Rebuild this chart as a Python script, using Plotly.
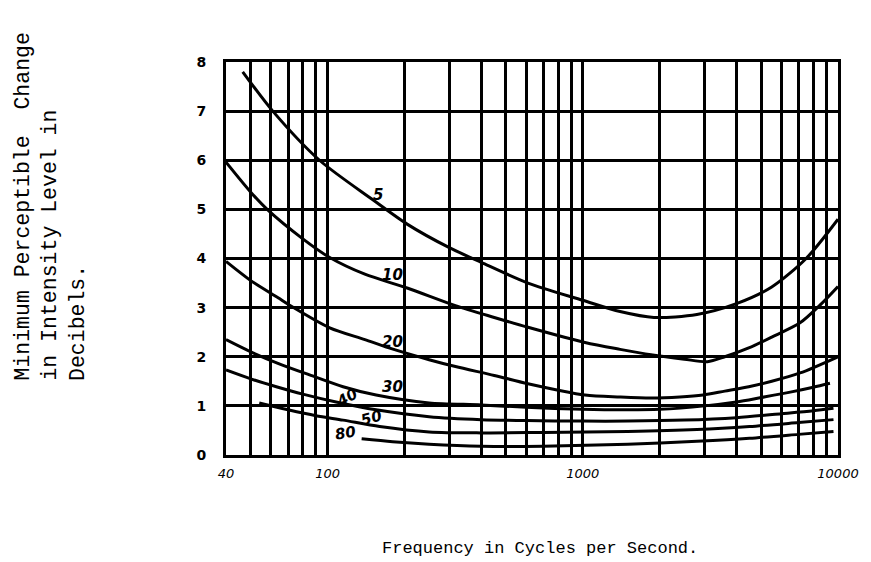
import plotly.graph_objects as go
import numpy as np

# ---- data ----
f5 = [46.5, 61, 93, 150, 205, 300, 400, 610, 1000, 1400, 1900, 2800, 4000, 5500, 7500, 10000]
v5 = [7.8, 7.0, 6.0, 5.2, 4.7, 4.22, 3.92, 3.5, 3.15, 2.92, 2.8, 2.86, 3.08, 3.42, 4.0, 4.8]

f10 = [40, 50, 58, 80, 102, 140, 205, 317, 450, 610, 1020, 1400, 1850, 2500, 3080, 3600, 4470, 5500, 7100, 8500, 10000]
v10 = [5.96, 5.35, 5.0, 4.4, 4.02, 3.68, 3.4, 3.04, 2.8, 2.6, 2.29, 2.15, 2.04, 1.95, 1.9, 2.0, 2.18, 2.4, 2.69, 3.05, 3.43]

f20 = [40, 50, 64, 71, 102, 140, 174, 250, 317, 450, 610, 1020, 1400, 1850, 2400, 2960, 3600, 4470, 5500, 7100, 10000]
v20 = [3.94, 3.55, 3.2, 3.05, 2.59, 2.35, 2.18, 1.94, 1.8, 1.62, 1.45, 1.22, 1.18, 1.16, 1.18, 1.22, 1.3, 1.39, 1.5, 1.67, 2.0]

f30 = [40, 51, 65, 85, 115, 155, 250, 400, 600, 1000, 1500, 2000, 3000, 4000, 5000, 6500, 8000, 9300]
v30 = [2.35, 2.08, 1.85, 1.63, 1.39, 1.22, 1.06, 1.02, 0.97, 0.93, 0.92, 0.93, 1.0, 1.08, 1.17, 1.28, 1.38, 1.46]

f40 = [40, 50, 63, 80, 108, 155, 250, 400, 600, 1000, 1500, 2500, 4000, 6000, 8000, 9600]
v40 = [1.73, 1.55, 1.39, 1.24, 1.08, 0.92, 0.78, 0.72, 0.70, 0.69, 0.69, 0.71, 0.76, 0.84, 0.90, 0.95]

f50 = [54, 70, 90, 115, 160, 250, 400, 700, 1500, 2800, 4500, 7000, 9600]
v50 = [1.06, 0.92, 0.80, 0.71, 0.58, 0.47, 0.45, 0.46, 0.48, 0.52, 0.58, 0.66, 0.72]

f80 = [136, 180, 250, 400, 700, 1500, 2800, 4500, 7000, 9600]
v80 = [0.33, 0.27, 0.22, 0.18, 0.18, 0.22, 0.28, 0.34, 0.42, 0.48]

curves = [("5", f5, v5), ("10", f10, v10), ("20", f20, v20), ("30", f30, v30),
          ("40", f40, v40), ("50", f50, v50), ("80", f80, v80)]

# curve label positions (frequency, dB) and angle
labels = [("5", 157, 5.3, 0), ("10", 179, 3.66, 0), ("20", 179, 2.31, 0),
          ("30", 179, 1.39, 0), ("40", 119, 1.16, -30), ("50", 148, 0.75, -15),
          ("80", 118, 0.45, -10)]

grid_freqs = [40, 50, 60, 70, 80, 90, 100, 200, 300, 400, 500, 600, 700, 800, 900,
              1000, 2000, 3000, 4000, 5000, 6000, 7000, 8000, 9000, 10000]
x_labeled = {40: "40", 100: "100", 1000: "1000", 10000: "10000"}
y_ticks = [0, 1, 2, 3, 4, 5, 6, 7, 8]

fig = go.Figure()
for name, fx, vy in curves:
    fig.add_trace(go.Scatter(x=fx, y=vy, mode="lines", name=name,
                             line=dict(color="black", width=3, shape="spline", smoothing=0.8),
                             showlegend=False, hoverinfo="skip"))

for txt, fx, vy, ang in labels:
    fig.add_annotation(x=np.log10(fx), y=vy, text=txt, showarrow=False,
                       textangle=ang, xref="x", yref="y",
                       font=dict(family="DejaVu Sans", size=15, color="black", style="italic", weight="bold"))

# axis titles as rotated annotations
ytitle_lines = ["Minimum Perceptible  Change", "in Intensity Level in", "Decibels."]
ytitle_x = [-0.332, -0.287, -0.243]
for line, px in zip(ytitle_lines, ytitle_x):
    fig.add_annotation(x=px, y=0.184, xref="paper", yref="paper", text=line,
                       showarrow=False, textangle=-90, xanchor="center", yanchor="bottom",
                       font=dict(family="Liberation Mono", size=21.5, color="black"))

fig.add_annotation(x=0.513, y=-0.238, xref="paper", yref="paper",
                   text="Frequency in Cycles per Second.", showarrow=False,
                   xanchor="center", yanchor="middle",
                   font=dict(family="Liberation Mono", size=17, color="black"))

fig.update_xaxes(type="log", range=[np.log10(40), 4],
                 tickvals=grid_freqs,
                 ticktext=[x_labeled.get(g, "") for g in grid_freqs],
                 showgrid=True, gridcolor="black", gridwidth=3,
                 showline=True, linecolor="black", linewidth=3, mirror=True,
                 ticks="", zeroline=False, ticklabelstandoff=4,
                 tickfont=dict(family="DejaVu Sans", size=13, color="black", style="italic"))
fig.update_yaxes(range=[0, 8], tickvals=y_ticks, ticktext=[str(t) for t in y_ticks],
                 showgrid=True, gridcolor="black", gridwidth=3,
                 showline=True, linecolor="black", linewidth=3, mirror=True,
                 ticks="", zeroline=False, ticklabelstandoff=14,
                 tickfont=dict(family="DejaVu Sans", size=14, color="black", weight="bold"))

# page body has an 8px margin, so the figure is sized/placed to compensate
fig.update_layout(width=863, height=554, paper_bgcolor="white", plot_bgcolor="white",
                  margin=dict(l=218, r=31, t=54, b=107))

fig.write_html("out.html")
